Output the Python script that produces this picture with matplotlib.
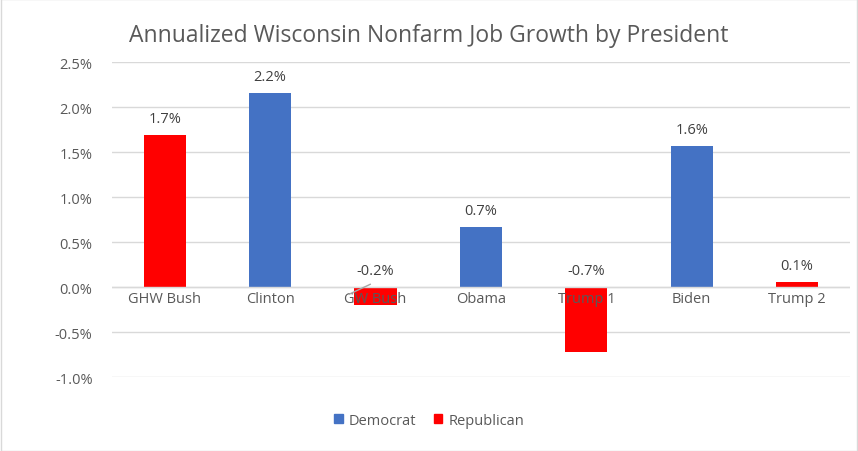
import matplotlib
matplotlib.use("Agg")
import matplotlib.pyplot as plt
from matplotlib.patches import Patch

presidents = ["GHW Bush", "Clinton", "GW Bush", "Obama", "Trump 1", "Biden", "Trump 2"]
growth = [1.69, 2.16, -0.20, 0.67, -0.72, 1.57, 0.06]
party = ["R", "D", "R", "D", "R", "D", "R"]
labels = ["1.7%", "2.2%", "-0.2%", "0.7%", "-0.7%", "1.6%", "0.1%"]

BLUE = "#4472C4"
RED = "#FF0000"
TXT = "#595959"

plt.rcParams["font.family"] = ["Open Sans", "DejaVu Sans"]

fig = plt.figure(figsize=(8.58, 4.52), dpi=100)
fig.patches.append(plt.Rectangle((0.001, 0.001), 0.998, 0.998, transform=fig.transFigure,
                                 fill=False, edgecolor="#D9D9D9", linewidth=1))
ax = fig.add_axes([0.1305, 0.1637, 0.86, 0.6969])

x = list(range(len(presidents)))
colors = [BLUE if p == "D" else RED for p in party]
ax.bar(x, growth, width=0.4, color=colors, zorder=3)

ax.set_ylim(-1.0, 2.5)
ax.set_xlim(-0.5, len(presidents) - 0.5)
ticks = [-1.0, -0.5, 0.0, 0.5, 1.0, 1.5, 2.0, 2.5]
ax.set_yticks(ticks)
ax.set_yticklabels([f"{t:.1f}%" for t in ticks], color=TXT, fontsize=10.5)
ax.tick_params(axis="y", length=0, pad=14)
ax.grid(axis="y", color="#D9D9D9", linewidth=1, zorder=0)
for s in ax.spines.values():
    s.set_visible(False)
ax.axhline(0, color="#D9D9D9", linewidth=1, zorder=4)

ax.set_xticks([])
for i, name in enumerate(presidents):
    ax.text(i, -0.13, name, ha="center", va="center", color=TXT, fontsize=10.5, zorder=5)

for i, (v, lab) in enumerate(zip(growth, labels)):
    y = max(v, 0) + 0.1 if v >= 0 else 0.1
    if lab == "-0.2%":
        y = 0.1
        ax.plot([i - 0.25, i - 0.05], [-0.08, 0.03], color="#A6A6A6", linewidth=1, zorder=5)
    ax.text(i, y, lab, ha="center", va="bottom", color="#404040", fontsize=10.5, zorder=5)

fig.text(0.5, 0.92, "Annualized Wisconsin Nonfarm Job Growth by President",
         ha="center", va="center", color=TXT, fontsize=16.5)

handles = [Patch(color=BLUE, label="Democrat"), Patch(color=RED, label="Republican")]
leg = fig.legend(handles=handles, loc="center", bbox_to_anchor=(0.5, 0.068), ncol=2,
                 frameon=False, fontsize=10.5, handlelength=0.6, handleheight=0.6,
                 columnspacing=1.2, handletextpad=0.4)
for t in leg.get_texts():
    t.set_color(TXT)

fig.savefig("out.png", dpi=100)
